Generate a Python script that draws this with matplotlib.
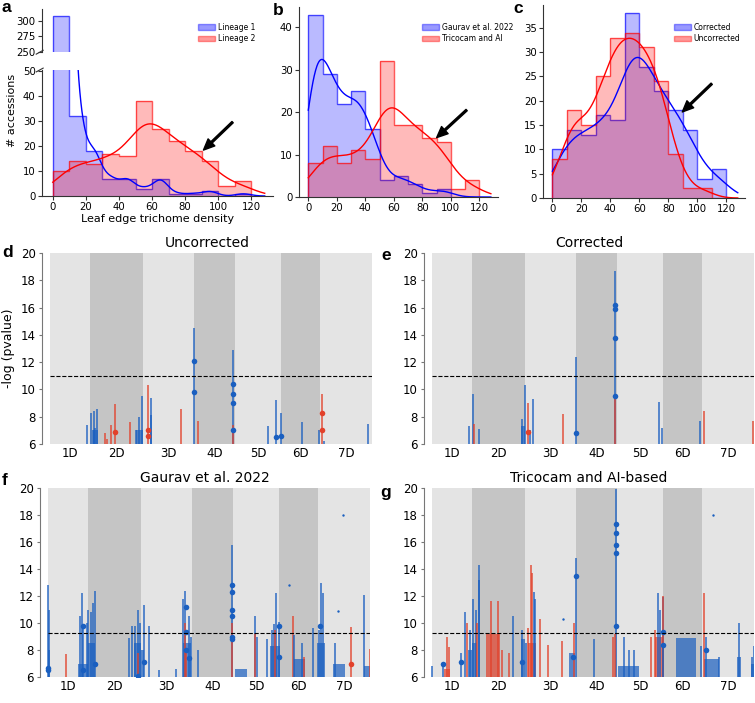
import numpy as np
import matplotlib
matplotlib.use("Agg")
import matplotlib.pyplot as plt
from matplotlib.patches import Patch

plt.rcParams["font.family"] = "DejaVu Sans"

# ---------------- histogram data (accessions per 10-unit bin, 0..120) ----------------
bin_edges = np.arange(0, 130, 10)

lineage1 = [307, 32, 18, 7, 7, 3, 7, 1, 1, 2, 0, 1]
lineage2 = [10, 14, 13, 17, 16, 38, 27, 22, 18, 14, 4, 6]

gaurav = [43, 29, 22, 25, 16, 4, 5, 3, 1, 2, 0, 0]
tricocam = [8, 12, 8, 11, 9, 32, 17, 17, 14, 13, 2, 4]

corrected = [10, 14, 13, 17, 16, 38, 27, 22, 18, 14, 4, 6]
uncorrected = [8, 18, 15, 25, 33, 34, 31, 24, 9, 2, 2, 0]

# ---------------- GWAS data (D genome, Mb) ----------------
chrom_names = ["1D", "2D", "3D", "4D", "5D", "6D", "7D"]
chrom_len = [495.5, 651.9, 615.6, 509.9, 566.1, 473.6, 638.7]

# peaks: (chrom, pos Mb, top -log p, colour)
d_peaks = [
    ("1D", 458, 7.4, "b"), ("2D", 16, 8.3, "b"), ("2D", 30, 7.0, "b"), ("2D", 45, 8.4, "b"),
    ("2D", 60, 7.2, "b"), ("2D", 78, 8.6, "b"), ("2D", 180, 6.8, "r"), ("2D", 208, 6.4, "r"),
    ("2D", 253, 7.4, "r"), ("2D", 307, 8.9, "r"), ("2D", 487, 7.6, "r"), ("2D", 568, 7.0, "b"),
    ("2D", 600, 8.0, "b"), ("2D", 630, 9.5, "b"), ("3D", 60, 10.3, "r"), ("3D", 95, 8.1, "b"),
    ("3D", 100, 9.4, "b"), ("3D", 460, 8.6, "r"), ("4D", 4, 14.5, "b"), ("4D", 49, 7.7, "r"),
    ("4D", 486, 12.9, "b"), ("4D", 488, 7.4, "r"), ("5D", 406, 7.3, "b"), ("5D", 500, 9.2, "b"),
    ("5D", 561, 8.3, "b"), ("6D", 257, 7.6, "b"), ("6D", 466, 7.0, "b"), ("7D", 30, 9.7, "r"),
    ("7D", 50, 6.2, "b"), ("7D", 594, 7.5, "b"),
]
d_blocks = [("2D", 37, 98, 7.0, "b"), ("2D", 568, 650, 7.0, "b")]
d_dots = [
    ("2D", 307, [6.9], "r"), ("3D", 60, [7.0, 6.6], "r"), ("4D", 4, [12.1, 9.8], "b"),
    ("4D", 486, [10.4, 9.7, 9.0, 7.0], "b"), ("5D", 500, [6.5], "b"), ("5D", 561, [6.6], "b"),
    ("7D", 30, [8.3, 7.0], "r"),
]
d_single = []

e_peaks = [
    ("1D", 458, 7.3, "b"), ("2D", 12, 9.7, "b"), ("2D", 24, 7.5, "r"), ("2D", 78, 7.1, "b"),
    ("2D", 617, 7.8, "b"), ("2D", 650, 10.3, "b"), ("3D", 27, 9.0, "r"), ("3D", 55, 7.0, "b"),
    ("3D", 100, 9.3, "b"), ("3D", 464, 8.2, "r"), ("4D", 3, 12.4, "b"), ("4D", 483, 18.7, "b"),
    ("4D", 483, 9.5, "r"), ("5D", 508, 9.1, "b"), ("5D", 549, 7.2, "b"), ("6D", 449, 7.7, "b"),
    ("7D", 29, 8.4, "r"), ("7D", 623, 7.7, "r"),
]
e_blocks = [("2D", 597, 650, 7.3, "b")]
e_dots = [("3D", 27, [6.9], "r"), ("4D", 483, [16.2, 15.9, 13.8, 9.5], "b"), ("4D", 3, [6.8], "b")]
e_single = []

f_peaks = [
    ("1D", 8, 12.8, "b"), ("1D", 16, 11.0, "b"), ("1D", 221, 7.7, "r"), ("1D", 397, 10.5, "b"),
    ("1D", 417, 12.2, "b"), ("1D", 438, 9.8, "b"), ("1D", 478, 10.0, "b"),
    ("2D", 4, 11.0, "b"), ("2D", 33, 10.8, "b"), ("2D", 57, 11.5, "b"), ("2D", 82, 12.4, "b"),
    ("2D", 495, 8.9, "b"), ("2D", 536, 9.8, "b"), ("2D", 577, 9.8, "b"), ("2D", 617, 11.0, "b"),
    ("2D", 617, 7.8, "r"), ("2D", 638, 10.0, "b"),
    ("3D", 35, 11.3, "b"), ("3D", 88, 9.8, "b"), ("3D", 211, 6.5, "b"), ("3D", 424, 6.6, "b"),
    ("3D", 509, 11.8, "b"), ("3D", 530, 12.4, "b"), ("3D", 579, 10.5, "b"), ("3D", 608, 9.0, "b"),
    ("3D", 530, 10.0, "r"), ("3D", 550, 8.0, "r"),
    ("4D", 77, 8.0, "b"), ("4D", 495, 15.8, "b"), ("4D", 500, 10.0, "r"),
    ("5D", 271, 10.5, "b"), ("5D", 291, 9.0, "b"), ("5D", 271, 9.2, "r"), ("5D", 414, 8.8, "b"),
    ("5D", 475, 9.5, "b"), ("5D", 504, 9.9, "b"), ("5D", 529, 12.2, "b"), ("5D", 557, 10.1, "b"),
    ("5D", 510, 9.5, "r"),
    ("6D", 163, 10.5, "r"), ("6D", 183, 9.1, "b"), ("6D", 278, 8.5, "b"), ("6D", 305, 7.5, "r"),
    ("6D", 413, 9.6, "b"),
    ("7D", 9, 9.5, "b"), ("7D", 38, 13.0, "b"), ("7D", 58, 12.2, "b"), ("7D", 205, 8.5, "b"),
    ("7D", 406, 9.7, "r"), ("7D", 561, 12.1, "b"), ("7D", 636, 8.1, "r"),
]
f_blocks = [
    ("1D", 0, 30, 8.0, "b"), ("1D", 365, 495, 7.0, "b"), ("2D", 0, 90, 8.5, "b"),
    ("2D", 560, 652, 8.5, "b"), ("3D", 0, 30, 8.0, "b"), ("3D", 505, 612, 8.5, "b"),
    ("5D", 20, 175, 6.6, "b"), ("5D", 455, 566, 8.3, "b"), ("6D", 0, 12, 8.3, "b"),
    ("6D", 175, 318, 7.3, "b"), ("6D", 461, 473, 8.5, "b"), ("7D", 0, 91, 8.5, "b"),
    ("7D", 190, 330, 7.0, "b"), ("7D", 560, 639, 6.8, "b"),
]
f_dots = [
    ("1D", 8, [6.7, 6.5], "b"), ("1D", 438, [9.8, 6.5], "b"), ("2D", 78, [7.0], "b"),
    ("2D", 617, [6.1], "b"), ("3D", 35, [7.1], "b"), ("3D", 546, [11.2, 9.3, 8.0], "b"),
    ("3D", 590, [7.4], "b"), ("4D", 495, [12.8, 12.3, 11.0, 10.5, 9.0, 8.8], "b"),
    ("5D", 557, [9.8, 7.5], "b"), ("7D", 29, [9.8], "b"), ("7D", 406, [7.0], "r"),
]
f_single = [("6D", 114, 12.8), ("7D", 246, 10.9), ("7D", 308, 18.0)]

g_peaks = [
    ("1D", 8, 6.8, "b"), ("1D", 143, 7.0, "b"), ("1D", 184, 9.0, "r"), ("1D", 213, 8.2, "r"),
    ("1D", 356, 7.8, "b"), ("1D", 409, 10.8, "b"), ("1D", 438, 10.0, "r"), ("1D", 466, 9.5, "b"),
    ("2D", 12, 11.8, "b"), ("2D", 45, 11.0, "b"), ("2D", 65, 10.0, "r"), ("2D", 78, 13.2, "b"),
    ("2D", 86, 14.3, "b"), ("2D", 229, 11.6, "r"), ("2D", 311, 11.6, "r"), ("2D", 372, 8.0, "r"),
    ("2D", 446, 7.8, "r"), ("2D", 503, 10.5, "b"), ("2D", 617, 9.5, "b"),
    ("3D", 27, 9.6, "r"), ("3D", 68, 14.3, "r"), ("3D", 80, 13.7, "r"), ("3D", 109, 12.3, "b"),
    ("3D", 120, 11.8, "b"), ("3D", 182, 10.3, "r"), ("3D", 280, 8.4, "r"), ("3D", 444, 8.7, "r"),
    ("3D", 600, 10.0, "r"),
    ("4D", 4, 14.8, "b"), ("4D", 229, 8.8, "b"), ("4D", 462, 9.0, "r"), ("4D", 495, 19.9, "b"),
    ("4D", 490, 9.2, "r"),
    ("5D", 87, 9.0, "b"), ("5D", 148, 8.0, "b"), ("5D", 210, 8.0, "b"), ("5D", 414, 9.0, "r"),
    ("5D", 467, 9.5, "r"), ("5D", 496, 12.2, "b"), ("5D", 525, 11.0, "b"), ("5D", 557, 11.9, "b"),
    ("5D", 560, 12.0, "r"),
    ("6D", 0, 8.5, "b"), ("6D", 461, 8.3, "b"),
    ("7D", 30, 12.2, "r"), ("7D", 50, 9.0, "b"), ("7D", 213, 7.5, "b"), ("7D", 459, 10.0, "b"),
    ("7D", 620, 7.5, "b"), ("7D", 643, 8.3, "b"),
]
g_blocks = [
    ("1D", 150, 221, 6.6, "r"), ("1D", 440, 495, 8.0, "b"), ("2D", 0, 65, 8.5, "b"),
    ("2D", 167, 339, 9.2, "r"), ("2D", 597, 652, 8.8, "b"), ("3D", 0, 20, 8.5, "b"),
    ("3D", 27, 129, 8.5, "r"), ("3D", 538, 612, 7.8, "b"), ("5D", 5, 271, 6.8, "b"),
    ("5D", 467, 566, 9.0, "r"), ("6D", 155, 400, 8.9, "b"), ("7D", 30, 214, 7.3, "b"),
    ("7D", 430, 480, 7.5, "b"), ("7D", 600, 639, 7.0, "b"),
]
g_dots = [
    ("1D", 143, [7.0], "b"), ("1D", 356, [7.1], "b"), ("2D", 617, [7.1], "b"),
    ("3D", 590, [7.5], "b"), ("4D", 4, [13.5], "b"), ("4D", 495, [17.3, 16.7, 15.8, 15.2, 9.8], "b"),
    ("5D", 557, [9.3, 8.4], "b"), ("7D", 55, [8.0], "b"),
]
g_single = [("7D", 132, 18.0), ("3D", 456, 10.3)]

BLUE, RED = "#0000ff", "#ff0000"
PT = {"b": "#1a5fc0", "r": "#e2412b"}
BAND = ["#e4e4e4", "#c5c5c5"]

W, H = 755, 703
fig = plt.figure(figsize=(W / 100, H / 100), dpi=100)


def box(l, t, r, b):
    return [l / W, 1 - b / H, (r - l) / W, (b - t) / H]


def kde_curve(counts, xs):
    # gaussian kde of the binned values, scaled to counts (scott bandwidth)
    c = bin_edges[:-1] + 5.0
    w = np.asarray(counts, float)
    n = w.sum()
    mu = (w * c).sum() / n
    sd = np.sqrt((w * (c - mu) ** 2).sum() / n)
    bw = sd * n ** (-0.2)
    k = np.exp(-0.5 * ((xs[None, :] - c[:, None]) / bw) ** 2) / (bw * np.sqrt(2 * np.pi))
    return (w[:, None] * k).sum(0) * 10


def style_hist(ax):
    for s in ["top", "right"]:
        ax.spines[s].set_visible(False)
    for s in ["left", "bottom"]:
        ax.spines[s].set_color("#333333")
        ax.spines[s].set_linewidth(0.8)
    ax.tick_params(labelsize=7.3, length=3, width=0.8, pad=1.5, color="#333333")
    ax.set_xlim(-6.5, 133)


def draw_hist(ax, series, colors, kde=True):
    xs = np.linspace(0, 128, 400)
    for counts, col in zip(series, colors):
        ax.stairs(counts, bin_edges, fill=True, color=col, alpha=0.27, lw=0)
        ax.stairs(counts, bin_edges, color=col, alpha=0.65, lw=1.0)
        if kde:
            ax.plot(xs, kde_curve(counts, xs), color=col, lw=1.0)


def legend(ax, labels, colors, x, y):
    handles = [Patch(facecolor=c, edgecolor=c, alpha=0.4, lw=1) for c in colors]
    ax.legend(handles, labels, loc="upper left", bbox_to_anchor=(x / W, 1 - y / H),
              bbox_transform=fig.transFigure, frameon=False, fontsize=5.5, borderpad=0,
              handlelength=2.2, handleheight=0.75, handletextpad=0.4, labelspacing=0.3)


def arrow(ax, tip, tail):
    ax.annotate("", xy=tip, xytext=tail,
                arrowprops=dict(facecolor="black", edgecolor="black", width=1.3,
                                headwidth=7, headlength=8, shrink=0))


# ---- a (broken y axis) ----
ax_at = fig.add_axes(box(42, 9, 273, 52))
ax_a = fig.add_axes(box(42, 70, 273, 196))
draw_hist(ax_at, [lineage1, lineage2], [BLUE, RED], kde=False)
draw_hist(ax_a, [lineage1, lineage2], [BLUE, RED])
for ax in (ax_at, ax_a):
    style_hist(ax)
ax_at.set_ylim(250, 319)
ax_at.set_yticks([250, 275, 300])
ax_at.spines["bottom"].set_visible(False)
ax_at.set_xticks([])
ax_a.set_ylim(0, 50.5)
ax_a.set_yticks(range(0, 51, 10))
ax_a.set_xticks(range(0, 121, 20))
ax_a.set_xlabel("Leaf edge trichome density", fontsize=8, labelpad=1)
fig.text(12 / W, 1 - 110 / H, "# accessions", rotation=90, fontsize=8, ha="center", va="center")
ax_at.plot([-0.025, 0.005], [-0.05, 0.04], transform=ax_at.transAxes, color="#333333", lw=0.8, clip_on=False)
ax_a.plot([-0.025, 0.005], [0.985, 1.015], transform=ax_a.transAxes, color="#333333", lw=0.8, clip_on=False)
arrow(ax_a, (91, 18.4), (108.6, 29.6))
legend(ax_at, ["Lineage 1", "Lineage 2"], [BLUE, RED], 194, 19)

# ---- b ----
ax_b = fig.add_axes(box(299, 7, 498, 197))
draw_hist(ax_b, [gaurav, tricocam], [BLUE, RED])
style_hist(ax_b)
ax_b.set_ylim(0, 44.8)
ax_b.set_yticks(range(0, 41, 10))
ax_b.set_xticks(range(0, 121, 20))
arrow(ax_b, (90, 14), (111, 20.5))
legend(ax_b, ["Gaurav et al. 2022", "Tricocam and AI"], [BLUE, RED], 418, 19)

# ---- c ----
ax_c = fig.add_axes(box(543, 5, 745, 198))
draw_hist(ax_c, [corrected, uncorrected], [BLUE, RED])
style_hist(ax_c)
ax_c.set_ylim(0, 39.7)
ax_c.set_yticks(range(0, 36, 5))
ax_c.set_xticks(range(0, 121, 20))
arrow(ax_c, (89.7, 17.7), (110, 23.5))
legend(ax_c, ["Corrected", "Uncorrected"], [BLUE, RED], 670, 19)

# ---- manhattan panels ----
starts = np.concatenate([[0], np.cumsum(chrom_len)[:-1]])
offset = dict(zip(chrom_names, starts))
total = float(np.sum(chrom_len))


def manhattan(ax, peaks, blocks, dots, singles, thr, title):
    for i, (s, L) in enumerate(zip(starts, chrom_len)):
        ax.axvspan(s, s + L, color=BAND[i % 2], lw=0, zorder=0)
    for ch, a, b, top, c in blocks:
        ax.bar(offset[ch] + a, top - 6, width=b - a, bottom=6, align="edge",
               color=PT[c], alpha=0.7, lw=0, zorder=2)
    for ch, p, top, c in peaks:
        ax.vlines(offset[ch] + p, 6, top, colors=PT[c], lw=1.1, alpha=0.9, zorder=3)
    for ch, p, vals, c in dots:
        ax.scatter([offset[ch] + p] * len(vals), vals, s=16, color=PT[c], lw=0, zorder=4)
    for ch, p, v in singles:
        ax.scatter([offset[ch] + p], [v], s=3, color=PT["b"], lw=0, zorder=4)
    ax.hlines(thr, 0, total, colors="black", linestyles="--", lw=0.8, zorder=5)
    ax.set_xlim(-95, total)
    ax.set_ylim(6, 20)
    ax.set_yticks(range(6, 21, 2))
    ax.set_xticks(starts + np.array(chrom_len) / 2)
    ax.set_xticklabels(chrom_names)
    ax.tick_params(axis="x", length=0, pad=2, labelsize=8.5)
    ax.tick_params(axis="y", length=2.5, width=0.8, pad=2, labelsize=8.5, color="#777777")
    for s in ["top", "right", "bottom"]:
        ax.spines[s].set_visible(False)
    ax.spines["left"].set_color("#777777")
    ax.spines["left"].set_linewidth(0.8)
    ax.set_title(title, fontsize=10, pad=4)


ax_d = fig.add_axes(box(42, 253, 372, 444))
manhattan(ax_d, d_peaks, d_blocks, d_dots, d_single, 11.0, "Uncorrected")
ax_d.set_ylabel("-log (pvalue)", fontsize=9, labelpad=4)

ax_e = fig.add_axes(box(424, 253, 754, 444))
manhattan(ax_e, e_peaks, e_blocks, e_dots, e_single, 11.0, "Corrected")

ax_f = fig.add_axes(box(40, 488, 370, 677))
manhattan(ax_f, f_peaks, f_blocks, f_dots, f_single, 9.25, "Gaurav et al. 2022")

ax_g = fig.add_axes(box(424, 488, 754, 677))
manhattan(ax_g, g_peaks, g_blocks, g_dots, g_single, 9.25, "Tricocam and AI-based")

# panel letters
for letter, x, y in [("a", 1, 12), ("b", 273, 15), ("c", 513, 13), ("d", 2, 257),
                     ("e", 381, 260), ("f", 2, 485), ("g", 380, 497)]:
    fig.text(x / W, 1 - y / H, letter, fontsize=12.5, fontweight="bold",
             family="Liberation Sans", ha="left", va="baseline")

fig.savefig("out.png", dpi=100)
